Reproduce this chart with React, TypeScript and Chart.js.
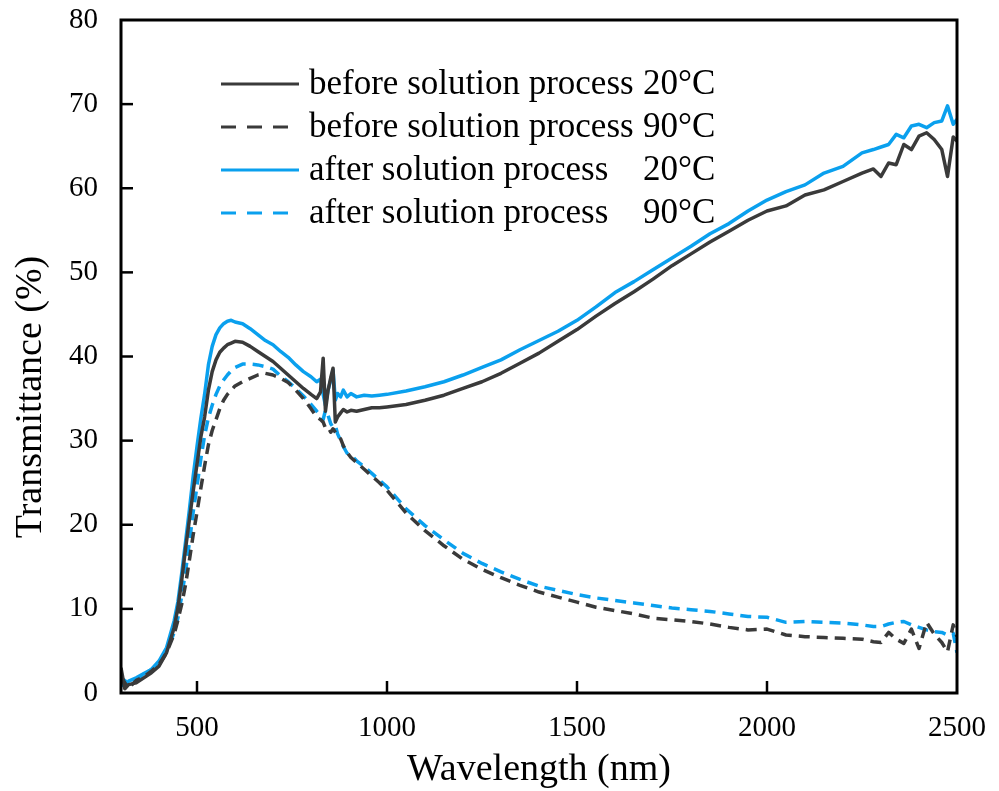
import { useEffect, useRef } from "react";
import { Chart, registerables } from "chart.js";

Chart.register(...registerables);

// Wavelength (nm)
const wavelengths = [
  300, 310, 320, 340, 360, 380, 400, 420, 440, 450, 460, 470, 480, 490, 500, 510, 520, 530, 540, 550,
  560, 570, 580, 590, 600, 620, 640, 660, 680, 700, 720, 740, 760, 780, 800, 815, 825, 832, 838, 845,
  852, 858, 864, 870, 878, 885, 895, 905, 920, 940, 960, 980, 1000, 1050, 1100, 1150, 1200, 1250, 1300, 1350,
  1400, 1450, 1500, 1550, 1600, 1650, 1700, 1750, 1800, 1850, 1900, 1950, 2000, 2050, 2100, 2150, 2200, 2250, 2280, 2300,
  2320, 2340, 2360, 2380, 2400, 2420, 2440, 2460, 2475, 2490, 2500,
];

// Transmittance (%) — before solution process, 20°C
const before20 = [
  3.0, 0.5, 1.0, 1.2, 1.8, 2.4, 3.2, 4.8, 7.8, 10.2, 13.5, 17.2, 20.6, 24.0, 27.2, 30.4, 32.8, 36.0, 38.2, 39.6,
  40.5, 41.0, 41.4, 41.6, 41.8, 41.7, 41.2, 40.6, 40.0, 39.4, 38.6, 37.8, 37.0, 36.2, 35.5, 35.0, 35.8, 39.8, 33.5, 36.0,
  37.5, 38.6, 32.2, 32.8, 33.3, 33.7, 33.4, 33.6, 33.5, 33.7, 33.9, 33.9, 34.0, 34.3, 34.8, 35.4, 36.2, 37.0, 38.0, 39.2,
  40.4, 41.8, 43.2, 44.8, 46.3, 47.7, 49.2, 50.8, 52.2, 53.6, 54.9, 56.2, 57.3, 57.9, 59.2, 59.8, 60.8, 61.8, 62.3, 61.4,
  63.0, 62.8, 65.2, 64.6, 66.2, 66.6, 65.8, 64.6, 61.4, 66.1, 65.6,
];

// Transmittance (%) — before solution process, 90°C
const before90 = [
  2.0, 1.2, 0.6, 1.5, 1.9, 2.6, 3.4, 4.8, 7.0, 8.7, 10.6, 12.9, 15.8, 18.8, 21.5, 24.3, 27.0, 29.5, 31.2, 32.5,
  33.8, 34.8, 35.5, 36.0, 36.5, 37.0, 37.4, 37.8, 38.0, 37.8, 37.4, 36.9, 36.0, 35.0, 33.8, 32.8, 32.5, 32.2, 31.5, 31.6,
  31.0, 31.4, 31.0, 30.6, 30.2, 29.4, 28.6, 28.0, 27.4, 26.6, 25.8, 25.0, 24.1, 21.4, 19.3, 17.5, 15.9, 14.7, 13.7, 12.8,
  12.0, 11.4, 10.8, 10.2, 9.8, 9.4, 8.9, 8.7, 8.5, 8.2, 7.8, 7.5, 7.6, 6.9, 6.7, 6.6, 6.5, 6.4, 6.1, 6.0,
  7.2, 6.4, 5.9, 7.6, 5.3, 8.4, 7.0, 6.0, 4.9, 8.1, 6.7,
];

// Transmittance (%) — after solution process, 20°C
const after20 = [
  1.5, 0.8, 1.4, 1.8, 2.3, 2.8, 3.8, 5.4, 8.6, 10.9, 14.3, 18.0, 21.8, 25.8, 29.3, 32.6, 35.5, 39.0, 41.2, 42.6,
  43.4, 43.9, 44.2, 44.3, 44.1, 43.9, 43.3, 42.6, 41.9, 41.4, 40.6, 39.9, 39.0, 38.2, 37.6, 37.0, 37.3, 35.5, 34.2, 36.0,
  37.2, 38.4, 34.8, 35.6, 35.2, 36.0, 35.2, 35.6, 35.2, 35.4, 35.3, 35.4, 35.5, 35.9, 36.4, 37.0, 37.8, 38.7, 39.6, 40.8,
  41.9, 43.0, 44.3, 45.9, 47.6, 48.9, 50.3, 51.7, 53.1, 54.6, 55.8, 57.3, 58.6, 59.6, 60.4, 61.8, 62.6, 64.2, 64.6, 64.9,
  65.2, 66.4, 66.0, 67.4, 67.6, 67.2, 67.8, 68.0, 69.8, 67.6, 68.2,
];

// Transmittance (%) — after solution process, 90°C
const after90 = [
  0.8, 1.5, 1.0, 1.6, 2.2, 2.8, 3.6, 5.0, 7.2, 9.0, 11.6, 14.5, 17.9, 21.5, 24.6, 27.8, 30.6, 32.7, 34.2, 35.5,
  36.5, 37.2, 37.8, 38.3, 38.7, 39.1, 39.1, 39.0, 38.8, 38.5, 37.7, 37.0, 36.2, 35.3, 34.3, 33.5, 33.0, 32.5, 33.6, 33.0,
  32.0, 31.6, 31.8, 30.8, 30.0, 29.3, 28.5, 28.3, 27.6, 26.9, 26.1, 25.3, 24.5, 21.9, 19.9, 18.2, 16.6, 15.4, 14.4, 13.5,
  12.7, 12.2, 11.7, 11.3, 11.0, 10.7, 10.4, 10.1, 9.9, 9.7, 9.4, 9.1, 9.0, 8.4, 8.5, 8.4, 8.3, 8.1, 7.9, 7.9,
  8.2, 8.4, 8.5, 8.1, 7.8, 7.5, 7.3, 7.2, 6.9, 7.1, 4.8,
];

const xTicks = [500, 1000, 1500, 2000, 2500];
const yTicks = [0, 10, 20, 30, 40, 50, 60, 70, 80];

const seriesNames = [
  "before solution process",
  "before solution process",
  "after solution process",
  "after solution process",
];
const seriesTemps = ["20°C", "90°C", "20°C", "90°C"];

const xTitle = "Wavelength (nm)";
const yTitle = "Transmittance (%)";

const DARK = "#3a3a3a";
const BLUE = "#0aa0ee";
const FONT = "'Liberation Serif', 'Times New Roman', serif";
const DASH = [11, 7];
const LW = 3.5;

const decorPlugin = {
  id: "decor",
  afterDatasetsDraw(chart: any) {
    const { ctx, chartArea: a, scales } = chart;
    ctx.save();
    // frame
    ctx.strokeStyle = "#000";
    ctx.lineWidth = 3;
    ctx.setLineDash([]);
    ctx.strokeRect(a.left, a.top, a.right - a.left, a.bottom - a.top);
    // inward ticks
    ctx.lineWidth = 2.5;
    xTicks.forEach((v) => {
      const x = scales.x.getPixelForValue(v);
      if (x < a.right - 3) {
        ctx.beginPath();
        ctx.moveTo(x, a.bottom);
        ctx.lineTo(x, a.bottom - 12);
        ctx.stroke();
      }
    });
    yTicks.forEach((v) => {
      const y = scales.y.getPixelForValue(v);
      if (y > a.top + 3 && y < a.bottom - 3) {
        ctx.beginPath();
        ctx.moveTo(a.left, y);
        ctx.lineTo(a.left + 12, y);
        ctx.stroke();
      }
    });
    // legend
    const rowY = [84, 127, 170, 213];
    chart.data.datasets.forEach((ds: any, i: number) => {
      const y = rowY[i];
      ctx.strokeStyle = ds.borderColor;
      ctx.lineWidth = 3;
      ctx.setLineDash(ds.borderDash ? [15, 11] : []);
      ctx.beginPath();
      ctx.moveTo(221, y);
      ctx.lineTo(299, y);
      ctx.stroke();
      ctx.setLineDash([]);
      ctx.fillStyle = "#000";
      ctx.font = `35px ${FONT}`;
      ctx.textBaseline = "middle";
      ctx.textAlign = "left";
      ctx.fillText(seriesNames[i], 309, y + 1);
      ctx.fillText(seriesTemps[i], 643, y + 1);
    });
    // axis titles
    ctx.fillStyle = "#000";
    ctx.font = `38px ${FONT}`;
    ctx.textAlign = "center";
    ctx.textBaseline = "middle";
    ctx.fillText(xTitle, (a.left + a.right) / 2, 770);
    ctx.save();
    ctx.translate(31, 397);
    ctx.rotate(-Math.PI / 2);
    ctx.fillText(yTitle, 0, 0);
    ctx.restore();
    ctx.restore();
  },
};

export default function App() {
  const ref = useRef<HTMLCanvasElement | null>(null);

  useEffect(() => {
    if (!ref.current) return;
    const mk = (arr: number[]) => wavelengths.map((w, i) => ({ x: w, y: arr[i] }));
    const zeroPad = (s: any) => {
      s.paddingTop = 0;
      s.paddingBottom = 0;
      s.paddingLeft = 0;
      s.paddingRight = 0;
    };
    const chart = new Chart(ref.current, {
      type: "line",
      data: {
        datasets: [
          { label: seriesNames[0] + " " + seriesTemps[0], data: mk(before20), borderColor: DARK, borderWidth: LW },
          { label: seriesNames[1] + " " + seriesTemps[1], data: mk(before90), borderColor: DARK, borderWidth: LW, borderDash: DASH },
          { label: seriesNames[2] + " " + seriesTemps[2], data: mk(after20), borderColor: BLUE, borderWidth: LW },
          { label: seriesNames[3] + " " + seriesTemps[3], data: mk(after90), borderColor: BLUE, borderWidth: LW, borderDash: DASH },
        ],
      },
      options: {
        animation: false,
        responsive: false,
        devicePixelRatio: 1,
        layout: { padding: { left: 0, right: 42, top: 20, bottom: 0 } },
        plugins: { legend: { display: false }, tooltip: { enabled: false } },
        elements: { point: { radius: 0 }, line: { tension: 0, borderJoinStyle: "round" } },
        scales: {
          x: {
            type: "linear",
            min: 300,
            max: 2500,
            grid: { display: false },
            border: { display: false },
            ticks: {
              color: "#000",
              font: { family: FONT, size: 29 },
              padding: 10,
              maxRotation: 0,
              autoSkip: false,
              callback: (v: any) => String(v),
            },
            afterBuildTicks: (s: any) => {
              s.ticks = xTicks.map((v) => ({ value: v }));
            },
            afterFit: (s: any) => {
              s.height = 98;
              zeroPad(s);
            },
          },
          y: {
            type: "linear",
            min: 0,
            max: 80,
            grid: { display: false },
            border: { display: false },
            ticks: {
              color: "#000",
              font: { family: FONT, size: 29 },
              padding: 15,
              autoSkip: false,
              callback: (v: any) => String(v),
            },
            afterBuildTicks: (s: any) => {
              s.ticks = yTicks.map((v) => ({ value: v }));
            },
            afterFit: (s: any) => {
              s.width = 121;
              zeroPad(s);
            },
          },
        },
      } as any,
      plugins: [decorPlugin],
    });
    return () => chart.destroy();
  }, []);

  return (
    <div style={{ position: "absolute", left: 0, top: 0, width: 999, height: 791, background: "#fff" }}>
      <canvas ref={ref} width={999} height={791} style={{ display: "block" }} />
    </div>
  );
}
